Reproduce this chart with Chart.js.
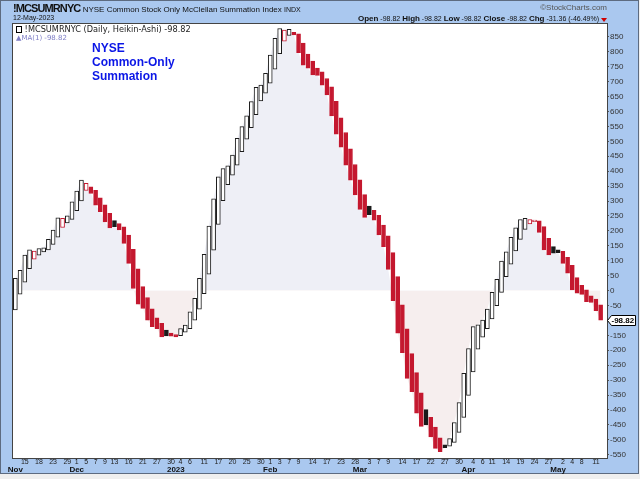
<!DOCTYPE html>
<html>
<head>
<meta charset="utf-8">
<script src="https://cdn.jsdelivr.net/npm/chart.js@4"></script>
<style>
  body { margin: 0; background: #efefef; }
  #wrap { position: relative; width: 640px; height: 479px; overflow: hidden; font-family: 'Liberation Sans', Arial, sans-serif; color: #111; }
  #chart { position: absolute; left: 0; top: 0; }
  .t { position: absolute; white-space: nowrap; line-height: 1; }
</style>
</head>
<body>
<div id="wrap">
  <canvas id="chart" width="640" height="479"></canvas>

  <div class="t" style="left:13px;top:3px;font-size:8px;line-height:10px;">
    <b style="font-size:11px;letter-spacing:-0.9px;">!MCSUMRNYC</b>
    <span>NYSE Common Stock Only McClellan Summation Index</span>
    <span style="font-size:7px;">INDX</span>
  </div>
  <div class="t" style="left:13px;top:14px;font-size:7px;line-height:8px;">12-May-2023</div>

  <div class="t" style="right:33px;top:4px;font-size:8px;color:#555;">&copy;StockCharts.com</div>
  <div class="t" style="right:41px;top:14px;font-size:7px;line-height:9px;">
    <b style="font-size:8px;">Open</b> -98.82 <b style="font-size:8px;">High</b> -98.82 <b style="font-size:8px;">Low</b> -98.82 <b style="font-size:8px;">Close</b> -98.82 <b style="font-size:8px;">Chg</b> -31.36 (-46.49%)
  </div>
  <div class="t" style="left:601px;top:18px;width:0;height:0;border-left:3px solid transparent;border-right:3px solid transparent;border-top:4px solid #d00000;"></div>

  <div class="t" style="left:16px;top:25px;font-family:'DejaVu Sans';font-size:8.2px;line-height:9px;color:#222;">
    <span style="display:inline-block;width:4px;height:5px;border:1px solid #000;vertical-align:-1px;"></span>
    !MCSUMRNYC (Daily, Heikin-Ashi) -98.82
  </div>
  <div class="t" style="left:16px;top:34px;font-family:'DejaVu Sans';font-size:7px;line-height:8px;color:#7f7fc6;">&#9650;MA(1) -98.82</div>

  <div class="t" style="left:92px;top:41px;font-size:12px;font-weight:bold;color:#0b16e6;line-height:14px;">NYSE<br>Common-Only<br>Summation</div>
</div>

<script>
// Daily summation values (Heikin-Ashi close), 11-Nov-2022 .. 12-May-2023
const closes = [
  41, 68, 119, 136, 132, 141, 143, 172, 203, 244,
  242, 250, 297, 333, 370, 359, 325, 286, 264, 230,
  210, 214, 203, 158, 91, 7, -46, -60, -99, -121,
  -128, -155, -152, -153, -155, -127, -116, -71, -26, 41,
  121, 216, 307, 381, 409, 418, 454, 510, 549, 585,
  633, 681, 688, 728, 789, 845, 878, 873, 875, 856,
  797, 755, 745, 722, 721, 688, 655, 585, 524, 480,
  420, 370, 320, 272, 245, 254, 236, 186, 147, 71,
  -34, -143, -208, -294, -339, -411, -455, -450, -490, -529,
  -540, -526, -496, -442, -375, -277, -194, -121, -115, -99,
  -62, -6, 38, 99, 130, 178, 210, 238, 242, 238,
  236, 195, 136, 119, 125, 127, 91, 58, 2, -9,
  -13, -37, -40, -67.46, -98.82
];
const firstOpen = -65;

// x axis: day labels and month labels (bar index -> text)
const dayTickIndex = [2, 5, 8, 11, 13, 15, 17, 19, 21, 24, 27, 30, 33, 35, 37, 40, 43, 46, 49, 52,
  54, 56, 58, 60, 63, 66, 69, 72, 75, 77, 79, 82, 85, 88, 91, 94, 97, 99, 101, 104, 107, 110, 113,
  116, 118, 120, 123];
const dayTickLabels = ['15', '18', '23', '29', '1', '5', '7', '9', '13', '16', '21', '27', '30', '4', '6',
  '11', '17', '20', '25', '30', '1', '3', '7', '9', '14', '17', '23', '28', '3', '7', '9', '14', '17',
  '22', '27', '30', '4', '6', '11', '14', '19', '24', '27', '2', '4', '8', '11'];
const monthTickIndex = [0, 13, 34, 54, 73, 96, 115];
const monthTickLabels = ['Nov', 'Dec', '2023', 'Feb', 'Mar', 'Apr', 'May'];

// right axis
const priceTicks = [850, 800, 750, 700, 650, 600, 550, 500, 450, 400, 350, 300, 250, 200, 150, 100, 50,
  0, -50, -100, -150, -200, -250, -300, -350, -400, -450, -500, -550];

// Heikin-Ashi open = midpoint of the previous candle body
const opens = [firstOpen];
for (let i = 1; i < closes.length; i++) {
  opens.push((opens[i - 1] + closes[i - 1]) / 2);
}

const RED = '#c4182f';
const BLUE = '#aac8ef';
const FONT = "'Liberation Sans', Arial, sans-serif";

// hollow when close >= open, red when close below the previous close
const styles = closes.map((c, i) => {
  const higher = i === 0 || c >= closes[i - 1];
  const col = higher ? '#1a1a1a' : RED;
  return { fill: c >= opens[i] ? '#ffffff' : col, border: col };
});

const framePlugin = {
  id: 'frame',
  beforeDraw(chart) {
    const { ctx, chartArea: a } = chart;
    ctx.save();
    ctx.fillStyle = '#efefef';
    ctx.fillRect(0, 0, 640, 479);
    ctx.fillStyle = BLUE;
    ctx.fillRect(0, 0, 639, 474);
    ctx.strokeStyle = '#5d6b80';
    ctx.lineWidth = 1;
    ctx.strokeRect(0.5, 0.5, 638, 473);
    ctx.fillStyle = '#ffffff';
    ctx.fillRect(a.left, a.top, a.right - a.left, a.bottom - a.top);
    ctx.restore();
  },
  afterDatasetsDraw(chart) {
    const { ctx, chartArea: a } = chart;
    ctx.save();
    ctx.strokeStyle = '#444';
    ctx.lineWidth = 1;
    ctx.strokeRect(Math.floor(a.left) - 0.5, Math.floor(a.top) - 0.5, a.right - a.left + 1, a.bottom - a.top + 1);
    ctx.restore();
  },
  afterDraw(chart) {
    // last value badge on the right axis
    const { ctx, chartArea: a } = chart;
    const last = closes[closes.length - 1];
    const y = Math.round(chart.scales.y.getPixelForValue(last)) + 0.5;
    const x0 = a.right + 0.5;
    ctx.save();
    ctx.beginPath();
    ctx.moveTo(x0, y);
    ctx.lineTo(x0 + 4, y - 5);
    ctx.lineTo(635.5, y - 5);
    ctx.lineTo(635.5, y + 5);
    ctx.lineTo(x0 + 4, y + 5);
    ctx.closePath();
    ctx.fillStyle = '#ffffff';
    ctx.fill();
    ctx.strokeStyle = '#000';
    ctx.stroke();
    ctx.fillStyle = '#000';
    ctx.font = 'bold 8px ' + FONT;
    ctx.textBaseline = 'middle';
    ctx.fillText(last.toFixed(2), x0 + 4, y + 0.5);
    ctx.restore();
  }
};

const ctx = document.getElementById('chart').getContext('2d');
new Chart(ctx, {
  type: 'bar',
  data: {
    datasets: [
      {
        type: 'bar',
        data: closes.map((c, i) => ({ x: i, y: [opens[i], c] })),
        backgroundColor: styles.map(s => s.fill),
        borderColor: styles.map(s => s.border),
        borderWidth: 1,
        borderSkipped: false,
        barThickness: 4,
        order: 1
      },
      {
        type: 'line',
        data: closes.map((c, i) => ({ x: i, y: c })),
        borderColor: 'transparent',
        borderWidth: 0,
        pointRadius: 0,
        tension: 0,
        fill: { target: 'origin', above: '#eeeff6', below: '#f6eeee' },
        order: 2
      }
    ]
  },
  options: {
    responsive: false,
    animation: false,
    devicePixelRatio: 1,
    layout: { padding: { left: 13, top: 24, right: 0, bottom: 0 } },
    plugins: { legend: { display: false }, tooltip: { enabled: false } },
    scales: {
      x: {
        type: 'linear',
        position: 'bottom',
        min: -0.5,
        max: 125.35,
        offset: false,
        weight: 0,
        afterBuildTicks: axis => { axis.ticks = dayTickIndex.map(v => ({ value: v })); },
        afterFit: axis => { axis.height = 8; },
        grid: { drawOnChartArea: false, offset: false, tickLength: 2, color: '#555' },
        border: { display: false },
        ticks: {
          autoSkip: false,
          maxRotation: 0,
          padding: -2,
          color: '#222',
          font: { family: FONT, size: 7 },
          callback: (v, i) => dayTickLabels[i]
        }
      },
      x2: {
        type: 'linear',
        position: 'bottom',
        min: -0.5,
        max: 125.35,
        offset: false,
        weight: 1,
        afterBuildTicks: axis => { axis.ticks = monthTickIndex.map(v => ({ value: v })); },
        afterFit: axis => { axis.height = 13; },
        grid: { display: false, drawTicks: false },
        border: { display: false },
        ticks: {
          autoSkip: false,
          maxRotation: 0,
          padding: -1,
          color: '#111',
          font: { family: FONT, size: 8, weight: 'bold' },
          callback: (v, i) => monthTickLabels[i]
        }
      },
      y: {
        type: 'linear',
        position: 'right',
        min: -561,
        max: 893,
        afterBuildTicks: axis => { axis.ticks = priceTicks.map(v => ({ value: v })); },
        afterFit: axis => { axis.width = 33; },
        grid: { drawOnChartArea: false, tickLength: 2, color: '#555' },
        border: { display: false },
        ticks: {
          padding: 1,
          color: '#333',
          font: { family: FONT, size: 8 },
          callback: v => String(v)
        }
      }
    }
  },
  plugins: [framePlugin]
});
</script>
</body>
</html>
